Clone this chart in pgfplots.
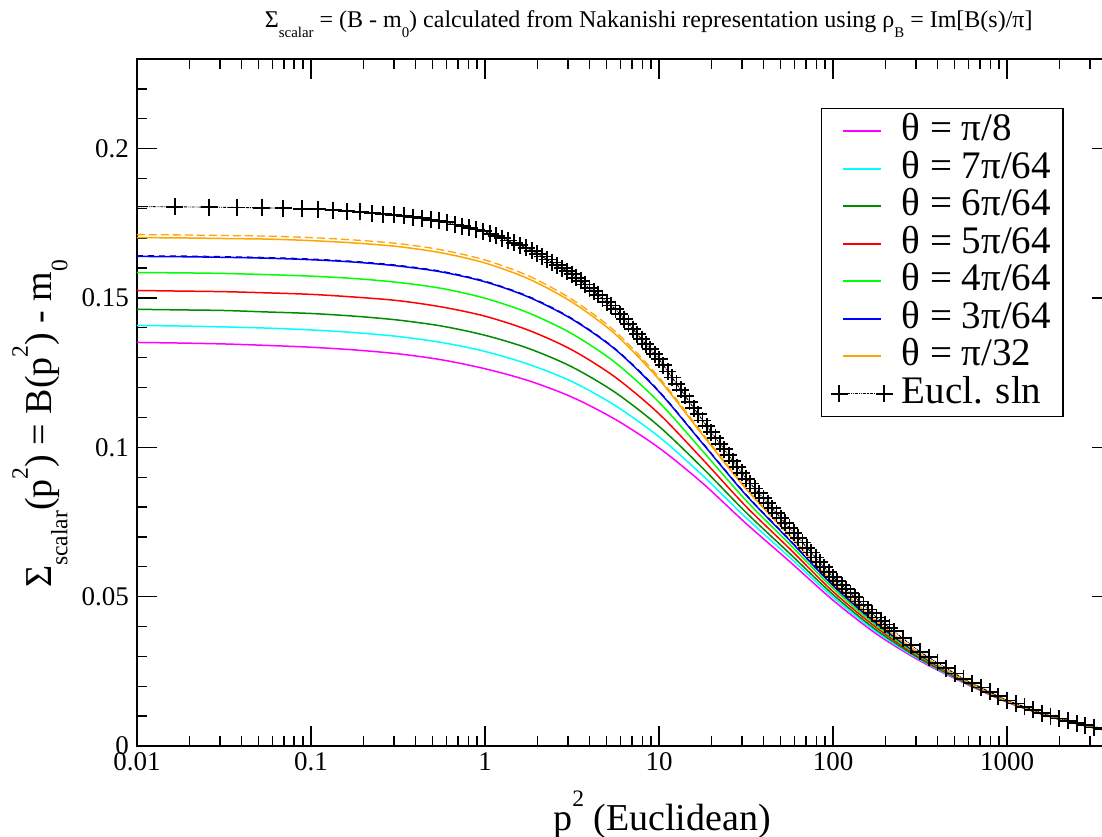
\documentclass[border=0pt]{standalone}
\usepackage{fontspec}
\setmainfont{Liberation Serif}
\usepackage{graphicx}
\usepackage{pgfplots}
\pgfplotsset{compat=1.18}
\newcommand{\sub}[1]{\raisebox{-0.42em}{\scalebox{0.62}{#1}}}
\newcommand{\sups}[1]{\raisebox{0.62em}{\scalebox{0.62}{#1}}}
\definecolor{xgreenfour}{RGB}{0,139,0}
\definecolor{xorange}{RGB}{255,165,0}
\definecolor{xmagenta}{RGB}{255,0,255}
\definecolor{xcyan}{RGB}{0,255,255}
\definecolor{xred}{RGB}{255,0,0}
\definecolor{xgreen}{RGB}{0,255,0}
\definecolor{xblue}{RGB}{0,0,255}
\pgfplotsset{
  lleg/.style={legend image code/.code={\draw[draw=#1, line width=2.2pt] (0pt,0pt) -- (38pt,0pt);}},
  eucllegend/.style={legend image code/.code={\draw[##1] plot coordinates {(-4pt,0pt) (41pt,0pt)};}},
}
\pgfplotstableread{
x m c g6 r g4 b o od
0.01 0.1351 0.1408 0.1462 0.1525 0.1585 0.1639 0.1702 0.1712
0.017783 0.1349 0.1406 0.1460 0.1523 0.1584 0.1638 0.1701 0.1711
0.031623 0.1346 0.1403 0.1458 0.1521 0.1582 0.1636 0.1699 0.1709
0.056234 0.1341 0.1399 0.1453 0.1517 0.1578 0.1633 0.1697 0.1707
0.1 0.1335 0.1393 0.1448 0.1512 0.1573 0.1628 0.1692 0.1702
0.17783 0.1326 0.1384 0.1439 0.1503 0.1565 0.1620 0.1684 0.1694
0.31623 0.1313 0.1371 0.1426 0.1491 0.1552 0.1607 0.1672 0.1682
0.56234 0.1293 0.1351 0.1406 0.1470 0.1532 0.1587 0.1651 0.1661
1 0.1263 0.1321 0.1375 0.1439 0.1499 0.1554 0.1617 0.1627
1.7783 0.1223 0.1278 0.1331 0.1392 0.1450 0.1503 0.1564 0.1574
3.1623 0.1168 0.1220 0.1269 0.1326 0.1380 0.1429 0.1486 0.1495
5.6234 0.1093 0.1139 0.1183 0.1234 0.1283 0.1327 0.1378 0.1387
10 0.0998 0.1035 0.1070 0.1112 0.1151 0.1186 0.1227 0.1234
17.783 0.0880 0.0906 0.0931 0.0960 0.0988 0.1013 0.1042 0.1047
31.623 0.0745 0.0764 0.0782 0.0802 0.0822 0.0840 0.0861 0.0864
56.234 0.0618 0.0632 0.0645 0.0661 0.0676 0.0689 0.0704 0.0707
100 0.0488 0.0498 0.0507 0.0517 0.0528 0.0537 0.0547 0.0549
177.83 0.0375 0.0382 0.0388 0.0396 0.0403 0.0410 0.0417 0.0419
316.23 0.0285 0.0289 0.0292 0.0296 0.0300 0.0304 0.0308 0.0309
562.34 0.0212 0.0214 0.0215 0.0217 0.0219 0.0220 0.0222 0.0222
1000 0.0147 0.0148 0.0148 0.0149 0.0150 0.0150 0.0151 0.0151
1778.3 0.0098 0.0098 0.0098 0.0099 0.0099 0.0099 0.0100 0.0100
3162.3 0.0061 0.0061 0.0061 0.0061 0.0061 0.0062 0.0062 0.0062
3981 0.0051 0.0051 0.0051 0.0051 0.0052 0.0052 0.0052 0.0052
}\curves
\pgfplotstableread{
x y
0.01 0.1806
0.016534 0.1805
0.025935 0.1804
0.037561 0.1803
0.05228 0.1802
0.06905 0.1800
0.08877 0.1799
0.1097 0.1797
0.1338 0.1794
0.1610 0.1791
0.1913 0.1788
0.2242 0.1784
0.2594 0.1781
0.2999 0.1778
0.3424 0.1775
0.3857 0.1771
0.4345 0.1767
0.4895 0.1762
0.5440 0.1758
0.6046 0.1753
0.6724 0.1746
0.7376 0.1740
0.8091 0.1735
0.8877 0.1729
0.9739 0.1724
1.0684 0.1715
1.1566 0.1708
1.2524 0.1700
1.3559 0.1692
1.4678 0.1684
1.5888 0.1676
1.7204 0.1668
1.8629 0.1658
1.9903 0.1648
2.1272 0.1639
2.2713 0.1629
2.4272 0.1619
2.5935 0.1609
2.7702 0.1600
2.9599 0.1590
3.1623 0.1580
3.3497 0.1568
3.5481 0.1557
3.7584 0.1545
3.9811 0.1533
4.2170 0.1522
4.4668 0.1510
4.7315 0.1498
5.0119 0.1486
5.3088 0.1475
5.6234 0.1463
5.9566 0.1446
6.3096 0.1429
6.6834 0.1413
7.0795 0.1396
7.4989 0.1379
7.9433 0.1362
8.4140 0.1345
8.9125 0.1329
9.4406 0.1312
10.000 0.1295
10.593 0.1275
11.220 0.1254
11.885 0.1234
12.589 0.1213
13.335 0.1193
14.125 0.1172
14.962 0.1152
15.849 0.1131
16.788 0.1111
17.783 0.1090
18.836 0.1071
19.953 0.1051
21.135 0.1032
22.387 0.1012
23.714 0.0993
25.119 0.0973
26.607 0.0954
28.184 0.0934
29.854 0.0915
31.623 0.0895
33.497 0.0879
35.481 0.0862
37.584 0.0846
39.811 0.0829
42.170 0.0813
44.668 0.0796
47.315 0.0780
50.119 0.0763
53.088 0.0747
56.234 0.0730
59.566 0.0714
63.096 0.0697
66.834 0.0681
70.795 0.0664
74.989 0.0648
79.433 0.0631
84.140 0.0615
89.125 0.0598
94.406 0.0582
100.00 0.0565
105.93 0.0552
112.20 0.0538
118.85 0.0525
125.89 0.0511
133.35 0.0498
141.25 0.0484
149.62 0.0471
158.49 0.0457
167.88 0.0444
177.83 0.0430
188.36 0.0419
199.53 0.0407
211.35 0.0396
223.87 0.0384
251.19 0.0361
281.84 0.0338
316.23 0.0315
354.81 0.0297
398.11 0.0279
446.68 0.0261
501.19 0.0243
562.34 0.0225
630.96 0.0210
707.95 0.0196
794.33 0.0181
891.25 0.0167
1000.0 0.0152
1122.0 0.0142
1258.9 0.0131
1412.5 0.0121
1584.9 0.0110
1778.3 0.0100
1995.3 0.0092
2238.7 0.0085
2511.9 0.0077
2818.4 0.0070
3162.3 0.0062
3548.1 0.0057
3981.1 0.0052
}\eucl
\begin{document}
\begin{tikzpicture}
\path[use as bounding box] (-137pt,-91pt) rectangle (965pt,746pt);
\clip (-137pt,-91pt) rectangle (965pt,746pt);
\begin{axis}[
  at={(0pt,0pt)}, anchor=south west,
  scale only axis, width=974.8pt, height=687pt,
  xmode=log, xmin=0.01, xmax=4000,
  ymin=0, ymax=0.23,
  xtick={0.01,0.1,1,10,100,1000},
  xticklabels={0.01,0.1,1,10,100,1000},
  minor xtick={0.02,0.03,0.04,0.05,0.06,0.07,0.08,0.09,0.2,0.3,0.4,0.5,0.6,0.7,0.8,0.9,2,3,4,5,6,7,8,9,20,30,40,50,60,70,80,90,200,300,400,500,600,700,800,900,2000,3000,4000},
  ytick={0,0.05,0.1,0.15,0.2},
  yticklabels={0,0.05,0.1,0.15,0.2},
  minor ytick={0.01,0.02,0.03,0.04,0.06,0.07,0.08,0.09,0.11,0.12,0.13,0.14,0.16,0.17,0.18,0.19,0.21,0.22},
  tick align=inside,
  major tick length=20pt, minor tick length=10pt,
  tick style={line width=1.3pt, black},
  axis line style={line width=1.6pt},
  tick label style={font=\fontsize{27}{32}\selectfont},
  xticklabel style={inner sep=6pt},
  yticklabel style={inner sep=8pt},
  title={Σ\sub{scalar} = (B - m\sub{0}) calculated from Nakanishi representation using ρ\sub{B} = Im[B(s)/π]},
  title style={at={(axis description cs:0.525,1.042)}, anchor=center, font=\fontsize{24}{28}\selectfont},
  xlabel={p\sups{2} (Euclidean)},
  xlabel style={at={(axis description cs:0.5386,-0.1004)}, anchor=center, font=\fontsize{38}{44}\selectfont},
  ylabel={Σ\sub{scalar}(p\sups{2}) = B(p\sups{2}) - m\sub{0}},
  ylabel style={at={(axis description cs:-0.0995,0.469)}, anchor=center, font=\fontsize{38}{44}\selectfont},
  legend style={at={(axis description cs:0.7017,0.9287)}, anchor=north west,
    line width=1.3pt, inner xsep=9pt, inner ysep=4pt,
    font=\fontsize{39}{44}\selectfont,
    nodes={inner sep=3pt, text height=25pt, text depth=6.5pt},
    /tikz/every odd column/.append style={column sep=6pt}},
  legend cell align=left,
  clip marker paths=true,
]
\addplot[color=xmagenta, line width=1.5pt, smooth, lleg=xmagenta] table[x=x, y=m] {\curves};
\addlegendentry{θ = π/8}
\addplot[color=xcyan, line width=1.5pt, smooth, lleg=xcyan] table[x=x, y=c] {\curves};
\addlegendentry{θ = 7π/64}
\addplot[color=xgreenfour, line width=1.5pt, smooth, lleg=xgreenfour] table[x=x, y=g6] {\curves};
\addlegendentry{θ = 6π/64}
\addplot[color=xred, line width=1.5pt, smooth, lleg=xred] table[x=x, y=r] {\curves};
\addlegendentry{θ = 5π/64}
\addplot[color=xgreen, line width=1.5pt, smooth, lleg=xgreen] table[x=x, y=g4] {\curves};
\addlegendentry{θ = 4π/64}
\addplot[color=xblue, line width=1.5pt, smooth, lleg=xblue] table[x=x, y=b] {\curves};
\addlegendentry{θ = 3π/64}
\addplot[color=xblue!70!black, line width=1.0pt, smooth, dash pattern=on 6pt off 5pt, yshift=0.8pt, forget plot] table[x=x, y=b] {\curves};
\addplot[color=xorange, line width=1.3pt, smooth, dash pattern=on 8pt off 4pt, forget plot] table[x=x, y=od] {\curves};
\addplot[color=xorange, line width=1.5pt, smooth, lleg=xorange] table[x=x, y=o] {\curves};
\addlegendentry{θ = π/32}
\addplot[color=black, line width=0.9pt, densely dashdotdotted, mark=+, mark size=8.5pt,
  mark options={solid, line width=1.8pt}, eucllegend] table[x=x, y=y] {\eucl};
\addlegendentry{Eucl. sln}
\end{axis}
\end{tikzpicture}
\end{document}
